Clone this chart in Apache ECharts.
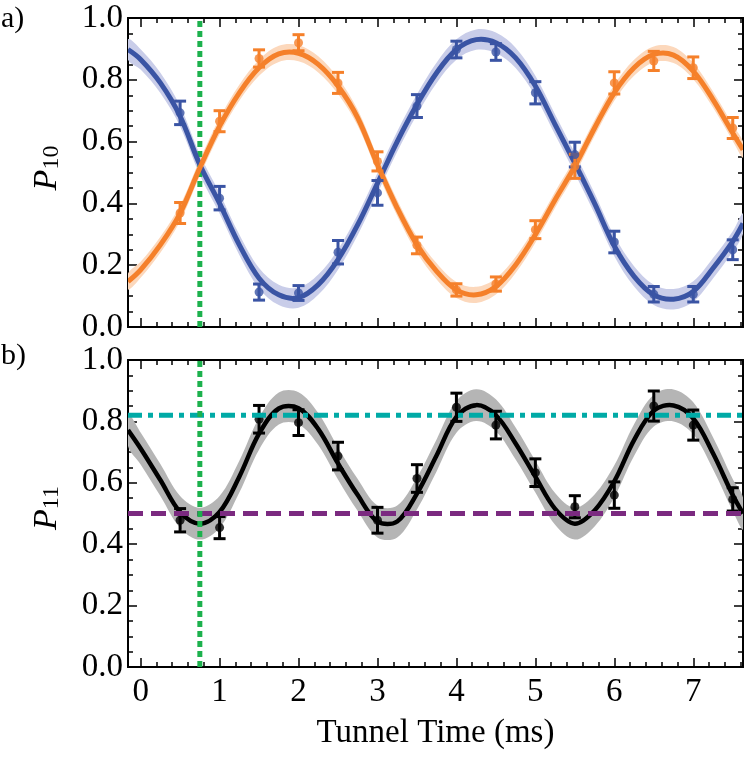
<!DOCTYPE html>
<html><head><meta charset="utf-8">
<script src="https://cdn.jsdelivr.net/npm/echarts@6/dist/echarts.min.js"></script>
<style>html,body{margin:0;padding:0;background:#fff}#c{width:747px;height:758px}</style>
</head><body><div id="c"></div>
<script>
// ---------- data ----------
const X_MIN = -0.16, X_MAX = 7.63;
const xMajorTicks = [0, 1, 2, 3, 4, 5, 6, 7];
const xMinorTicks = [0.2,0.4,0.6,0.8,1.2,1.4,1.6,1.8,2.2,2.4,2.6,2.8,3.2,3.4,3.6,3.8,4.2,4.4,4.6,4.8,5.2,5.4,5.6,5.8,6.2,6.4,6.6,6.8,7.2,7.4,7.6];
const pointT = [0.5, 1, 1.5, 2, 2.5, 3, 3.5, 4, 4.5, 5, 5.5, 6, 6.5, 7, 7.5];
const blueP   = [0.693, 0.417, 0.113, 0.110, 0.242, 0.434, 0.715, 0.898, 0.890, 0.758, 0.558, 0.275, 0.106, 0.106, 0.250];
const blueErr = [0.038, 0.038, 0.026, 0.024, 0.038, 0.040, 0.037, 0.027, 0.027, 0.036, 0.040, 0.035, 0.025, 0.025, 0.032];
const orangeP   = [0.369, 0.666, 0.869, 0.920, 0.790, 0.536, 0.264, 0.120, 0.139, 0.315, 0.520, 0.790, 0.861, 0.839, 0.644];
const orangeErr = [0.034, 0.034, 0.028, 0.026, 0.034, 0.031, 0.027, 0.020, 0.023, 0.029, 0.039, 0.036, 0.031, 0.035, 0.034];
const blackP   = [0.478, 0.454, 0.807, 0.796, 0.687, 0.478, 0.614, 0.846, 0.788, 0.633, 0.522, 0.560, 0.850, 0.788, 0.546];
const blackErr = [0.038, 0.036, 0.045, 0.042, 0.045, 0.042, 0.045, 0.046, 0.045, 0.045, 0.036, 0.043, 0.049, 0.049, 0.038];
const fitT = [-0.16, 0, 0.25, 0.5, 0.75, 1, 1.25, 1.5, 1.75, 2, 2.25, 2.5, 2.75, 3, 3.25, 3.5, 3.75, 4, 4.25, 4.5, 4.75, 5, 5.25, 5.5, 5.75, 6, 6.25, 6.5, 6.75, 7, 7.25, 7.5, 7.63];
const blueFit   = [0.898, 0.866, 0.790, 0.682, 0.525, 0.400, 0.266, 0.158, 0.104, 0.095, 0.137, 0.218, 0.331, 0.465, 0.600, 0.720, 0.823, 0.898, 0.930, 0.920, 0.871, 0.780, 0.655, 0.530, 0.400, 0.262, 0.164, 0.104, 0.090, 0.115, 0.190, 0.277, 0.335];
const orangeFit = [0.147, 0.185, 0.266, 0.368, 0.515, 0.650, 0.758, 0.839, 0.884, 0.886, 0.850, 0.780, 0.677, 0.525, 0.385, 0.266, 0.180, 0.120, 0.104, 0.131, 0.201, 0.299, 0.412, 0.520, 0.644, 0.758, 0.839, 0.882, 0.880, 0.828, 0.736, 0.628, 0.574];
const blackFit  = [0.772, 0.712, 0.609, 0.505, 0.467, 0.505, 0.620, 0.760, 0.842, 0.843, 0.775, 0.663, 0.560, 0.474, 0.474, 0.565, 0.690, 0.815, 0.853, 0.820, 0.728, 0.620, 0.515, 0.467, 0.510, 0.605, 0.739, 0.835, 0.852, 0.810, 0.696, 0.560, 0.500];
const blueBand = 0.033, orangeBand = 0.026, greyBand = 0.052;
const greenT = 0.75, tealLevel = 0.82, purpleLevel = 0.5;

// ---------- styles ----------
const FONT = 'Liberation Serif';
const C_BLUE = '#3a54a4', C_ORANGE = '#f5802a', C_BLACK = '#000';
const C_BLUEBAND = '#c9cde9', C_ORANGEBAND = '#fcd8bc', C_GREY = '#b5b5b5';
const C_GREEN = '#1cb14d', C_TEAL = '#00aaa6', C_PURPLE = '#7b2a80';
const SMOOTH = 0.35;

const chart = echarts.init(document.getElementById('c'));

function xAxis(gi, pos, ticks, len, labels) {
  const a = {
    type: 'value', gridIndex: gi, position: pos, min: X_MIN, max: X_MAX,
    axisLine: {show: true, onZero: false, lineStyle: {color: '#000', width: 2}},
    axisTick: {show: true, inside: true, length: len, customValues: ticks, lineStyle: {color: '#000', width: 1.5}},
    axisLabel: {show: labels, customValues: xMajorTicks, margin: 9, fontSize: 33, fontFamily: FONT, color: '#000'},
    splitLine: {show: false}
  };
  if (labels) {
    a.name = 'Tunnel Time (ms)'; a.nameLocation = 'middle'; a.nameGap = 50;
    a.nameTextStyle = {fontSize: 33, fontFamily: FONT, color: '#000'};
  }
  return a;
}
function yAxis(gi, pos, labels) {
  return {
    type: 'value', gridIndex: gi, position: pos, min: 0, max: 1, interval: 0.2,
    axisLine: {show: true, onZero: false, lineStyle: {color: '#000', width: 2}},
    axisTick: {show: true, inside: true, length: 9, lineStyle: {color: '#000', width: 1.5}},
    minorTick: {show: true, splitNumber: 4, length: 5, lineStyle: {color: '#000', width: 1.5}},
    axisLabel: {show: labels, margin: 5, fontSize: 33, fontFamily: FONT, color: '#000', formatter: v => v.toFixed(1)},
    splitLine: {show: false}
  };
}
function clipOf(params) {
  const cs = params.coordSys;
  return {type: 'rect', shape: {x: cs.x, y: cs.y, width: cs.width, height: cs.height}};
}
function band(xi, yi, T, fit, hw, color) {
  return {
    type: 'custom', xAxisIndex: xi, yAxisIndex: yi, z: 1, silent: true,
    data: [[T[0], fit[0]]],
    renderItem: function (params, api) {
      const pts = [];
      for (let i = 0; i < T.length; i++) pts.push(api.coord([T[i], fit[i] + hw]));
      for (let i = T.length - 1; i >= 0; i--) pts.push(api.coord([T[i], fit[i] - hw]));
      return {type: 'polygon', shape: {points: pts, smooth: SMOOTH}, style: {fill: color}, clipPath: clipOf(params)};
    }
  };
}
function fitLine(xi, yi, T, fit, color, w) {
  return {
    type: 'custom', xAxisIndex: xi, yAxisIndex: yi, z: 3, silent: true,
    data: [[T[0], fit[0]]],
    renderItem: function (params, api) {
      const pts = T.map((t, i) => api.coord([t, fit[i]]));
      return {type: 'polyline', shape: {points: pts, smooth: SMOOTH},
              style: {stroke: color, lineWidth: w, fill: null, lineJoin: 'round'}, clipPath: clipOf(params)};
    }
  };
}
function errBars(xi, yi, vals, errs, color) {
  return {
    type: 'custom', xAxisIndex: xi, yAxisIndex: yi, z: 4, silent: true,
    dimensions: ['x', 'y', 'e'], encode: {x: 0, y: 1},
    data: pointT.map((t, i) => [t, vals[i], errs[i]]),
    renderItem: function (params, api) {
      const x = api.value(0), y = api.value(1), e = api.value(2);
      const hi = api.coord([x, y + e]), lo = api.coord([x, y - e]);
      const cw = 6, st = {stroke: color, lineWidth: 3};
      return {type: 'group', children: [
        {type: 'line', shape: {x1: hi[0], y1: hi[1], x2: lo[0], y2: lo[1]}, style: st},
        {type: 'line', shape: {x1: hi[0] - cw, y1: hi[1], x2: hi[0] + cw, y2: hi[1]}, style: st},
        {type: 'line', shape: {x1: lo[0] - cw, y1: lo[1], x2: lo[0] + cw, y2: lo[1]}, style: st}
      ]};
    }
  };
}
function points(xi, yi, vals, color) {
  return {type: 'scatter', xAxisIndex: xi, yAxisIndex: yi, z: 5, silent: true, symbol: 'circle', symbolSize: 9,
    itemStyle: {color: color}, data: pointT.map((t, i) => [t, vals[i]])};
}
function refLine(xi, yi, data, color, dash, z) {
  return {type: 'line', xAxisIndex: xi, yAxisIndex: yi, z: z, silent: true, symbol: 'none', data: data,
    lineStyle: {color: color, width: 5, type: dash}};
}

const option = {
  animation: false,
  backgroundColor: '#fff',
  grid: [
    {left: 128, top: 18, width: 615, height: 309, containLabel: false},
    {left: 128, top: 360, width: 615, height: 307, containLabel: false}
  ],
  xAxis: [
    xAxis(0, 'bottom', xMajorTicks, 9, false),
    xAxis(0, 'bottom', xMinorTicks, 5, false),
    xAxis(0, 'top', xMajorTicks, 9, false),
    xAxis(0, 'top', xMinorTicks, 5, false),
    xAxis(1, 'bottom', xMajorTicks, 9, true),
    xAxis(1, 'bottom', xMinorTicks, 5, false),
    xAxis(1, 'top', xMajorTicks, 9, false),
    xAxis(1, 'top', xMinorTicks, 5, false)
  ],
  yAxis: [
    yAxis(0, 'left', true), yAxis(0, 'right', false),
    yAxis(1, 'left', true), yAxis(1, 'right', false)
  ],
  graphic: [
    {type: 'text', x: 1, y: 19, style: {text: 'a)', fontSize: 30, fontFamily: FONT, fill: '#000', verticalAlign: 'middle', align: 'left'}},
    {type: 'text', x: 1, y: 356, style: {text: 'b)', fontSize: 30, fontFamily: FONT, fill: '#000', verticalAlign: 'middle', align: 'left'}},
    {type: 'text', x: 47, y: 168, rotation: Math.PI / 2, style: {text: '{p|P}{s|10}', align: 'center', verticalAlign: 'middle', fill: '#000',
      rich: {p: {fontSize: 34, fontStyle: 'italic', fontFamily: FONT}, s: {fontSize: 24, fontFamily: FONT, verticalAlign: 'bottom'}}}},
    {type: 'text', x: 47, y: 508, rotation: Math.PI / 2, style: {text: '{p|P}{s|11}', align: 'center', verticalAlign: 'middle', fill: '#000',
      rich: {p: {fontSize: 34, fontStyle: 'italic', fontFamily: FONT}, s: {fontSize: 24, fontFamily: FONT, verticalAlign: 'bottom'}}}}
  ],
  series: [
    band(0, 0, fitT, blueFit, blueBand, C_BLUEBAND),
    band(0, 0, fitT, orangeFit, orangeBand, C_ORANGEBAND),
    refLine(0, 0, [[greenT, 0], [greenT, 1]], C_GREEN, [6, 4], 2),
    fitLine(0, 0, fitT, blueFit, C_BLUE, 5),
    fitLine(0, 0, fitT, orangeFit, C_ORANGE, 5),
    errBars(0, 0, blueP, blueErr, C_BLUE),
    errBars(0, 0, orangeP, orangeErr, C_ORANGE),
    points(0, 0, blueP, C_BLUE),
    points(0, 0, orangeP, C_ORANGE),

    band(4, 2, fitT, blackFit, greyBand, C_GREY),
    fitLine(4, 2, fitT, blackFit, C_BLACK, 4.5),
    errBars(4, 2, blackP, blackErr, C_BLACK),
    points(4, 2, blackP, C_BLACK),
    refLine(4, 2, [[X_MIN, purpleLevel], [X_MAX, purpleLevel]], C_PURPLE, [15, 8], 6),
    refLine(4, 2, [[X_MIN, tealLevel], [X_MAX, tealLevel]], C_TEAL, [14, 6, 5, 6], 6),
    refLine(4, 2, [[greenT, 0], [greenT, 1]], C_GREEN, [6, 4], 7)
  ]
};
chart.setOption(option);
</script>
</body></html>
